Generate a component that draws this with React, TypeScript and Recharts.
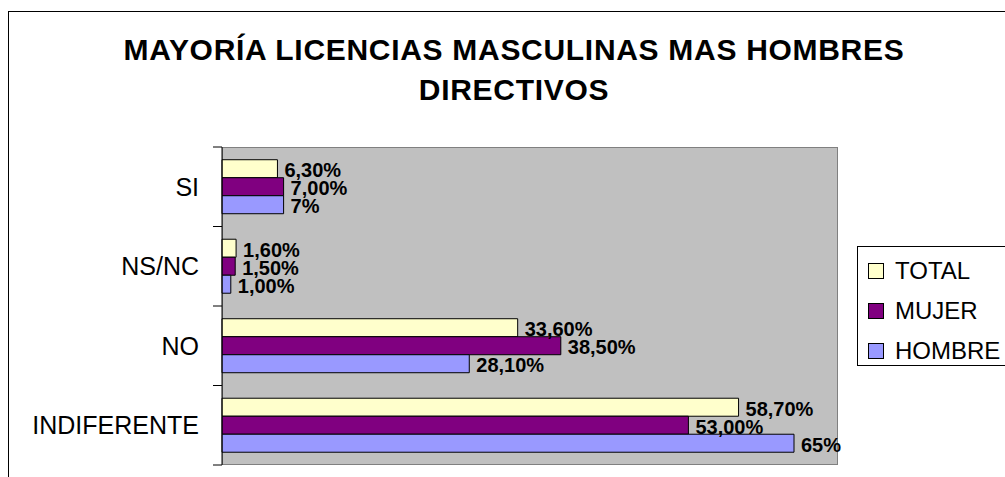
import { BarChart, Bar, XAxis, YAxis, LabelList } from "recharts";

const FONT = "'Liberation Sans', Arial, sans-serif";

// categories, top to bottom
const categories = ["SI", "NS/NC", "NO", "INDIFERENTE"];

// series values (%)
const totalValues = [6.3, 1.6, 33.6, 58.7];
const mujerValues = [7.0, 1.5, 38.5, 53.0];
const hombreValues = [7, 1.0, 28.1, 65];

// data label texts as printed
const totalLabels = ["6,30%", "1,60%", "33,60%", "58,70%"];
const mujerLabels = ["7,00%", "1,50%", "38,50%", "53,00%"];
const hombreLabels = ["7%", "1,00%", "28,10%", "65%"];

const seriesNames = ["TOTAL", "MUJER", "HOMBRE"];
const seriesColors = ["#FFFFCC", "#800080", "#9999FF"];

const data = categories.map((name, i) => ({
  name,
  total: totalValues[i],
  mujer: mujerValues[i],
  hombre: hombreValues[i],
}));

// plot area box
const PLOT_LEFT = 222;
const PLOT_TOP = 147;
const PLOT_RIGHT = 838;
const PLOT_BOTTOM = 465;
const BAND = (PLOT_BOTTOM - PLOT_TOP) / categories.length;

const valueLabel = (labels: string[]) => (props: any) => {
  const { x, y, width, height, index } = props;
  return (
    <text
      x={Number(x) + Number(width) + 7}
      y={Number(y) + Number(height) / 2 + 1.5}
      dominantBaseline="central"
      fontSize={20}
      fontWeight="bold"
      fontFamily={FONT}
      fill="#000"
    >
      {labels[index]}
    </text>
  );
};

const CategoryTick = (props: any) => {
  const { y, payload, index } = props;
  return (
    <g>
      <line x1={PLOT_LEFT - 9} x2={PLOT_LEFT} y1={y - BAND / 2} y2={y - BAND / 2} stroke="#000" />
      {index === categories.length - 1 && (
        <line x1={PLOT_LEFT - 9} x2={PLOT_LEFT} y1={y + BAND / 2} y2={y + BAND / 2} stroke="#000" />
      )}
      <text
        x={199}
        y={y}
        textAnchor="end"
        dominantBaseline="central"
        fontSize={25}
        fontFamily={FONT}
        fill="#000"
      >
        {payload.value}
      </text>
    </g>
  );
};

export default function App() {
  return (
    <div
      style={{
        position: "fixed",
        left: 0,
        top: 0,
        width: 1005,
        height: 477,
        background: "#fff",
        overflow: "hidden",
        fontFamily: FONT,
      }}
    >
      {/* chart area border (cropped at right/bottom) */}
      <div
        style={{
          position: "absolute",
          left: 8,
          top: 11,
          width: 1100,
          height: 600,
          border: "1.5px solid #000",
        }}
      />

      {/* title */}
      <div
        style={{
          position: "absolute",
          left: 0,
          width: 1028,
          top: 30,
          textAlign: "center",
          fontSize: 30,
          fontWeight: "bold",
          lineHeight: "40px",
          letterSpacing: 0.7,
          color: "#000",
        }}
      >
        MAYORÍA LICENCIAS MASCULINAS MAS HOMBRES
        <br />
        DIRECTIVOS
      </div>

      {/* plot area background */}
      <div
        style={{
          position: "absolute",
          left: PLOT_LEFT,
          top: PLOT_TOP,
          width: PLOT_RIGHT - PLOT_LEFT,
          height: PLOT_BOTTOM - PLOT_TOP,
          background: "#C0C0C0",
          border: "1px solid #808080",
          boxSizing: "border-box",
        }}
      />

      <div style={{ position: "absolute", left: 0, top: 0 }}>
        <BarChart
          width={1005}
          height={477}
          data={data}
          layout="vertical"
          margin={{ top: PLOT_TOP, right: 1005 - PLOT_RIGHT, bottom: 477 - PLOT_BOTTOM, left: 0 }}
          barCategoryGap="16%"
          barGap={0}
        >
          <XAxis type="number" domain={[0, 70]} hide />
          <YAxis
            type="category"
            dataKey="name"
            width={PLOT_LEFT}
            axisLine={{ stroke: "#000" }}
            tickLine={false}
            tick={<CategoryTick />}
            interval={0}
          />
          <Bar dataKey="total" fill={seriesColors[0]} stroke="#000" strokeWidth={1} isAnimationActive={false}>
            <LabelList dataKey="total" content={valueLabel(totalLabels)} />
          </Bar>
          <Bar dataKey="mujer" fill={seriesColors[1]} stroke="#000" strokeWidth={1} isAnimationActive={false}>
            <LabelList dataKey="mujer" content={valueLabel(mujerLabels)} />
          </Bar>
          <Bar dataKey="hombre" fill={seriesColors[2]} stroke="#000" strokeWidth={1} isAnimationActive={false}>
            <LabelList dataKey="hombre" content={valueLabel(hombreLabels)} />
          </Bar>
        </BarChart>
      </div>

      {/* legend */}
      <div
        style={{
          position: "absolute",
          left: 857,
          top: 246,
          width: 160,
          height: 120,
          border: "1px solid #000",
          boxSizing: "border-box",
          background: "#fff",
        }}
      >
        {seriesNames.map((name, i) => (
          <div
            key={name}
            style={{
              position: "absolute",
              left: 10,
              top: 8 + i * 40,
              height: 32,
              display: "flex",
              alignItems: "center",
              fontSize: 24,
              color: "#000",
              whiteSpace: "nowrap",
            }}
          >
            <span
              style={{
                display: "inline-block",
                width: 14,
                height: 14,
                background: seriesColors[i],
                border: "1px solid #000",
                marginRight: 11,
              }}
            />
            {name}
          </div>
        ))}
      </div>
    </div>
  );
}
